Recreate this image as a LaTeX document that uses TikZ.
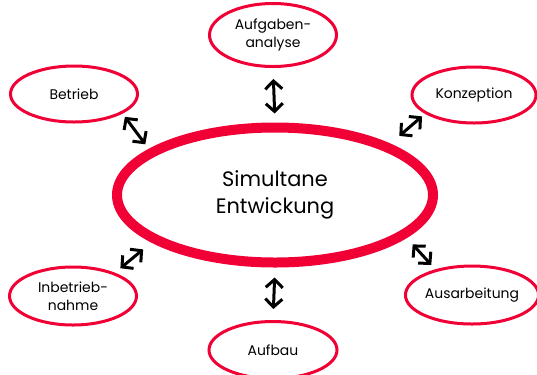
\documentclass[tikz,border=0pt]{standalone}
\usepackage{fontspec}
\setmainfont{Poppins}
\usetikzlibrary{arrows.meta}
\usetikzlibrary{shapes.geometric}
\definecolor{simred}{RGB}{240,0,52}
\tikzstyle{TaskNode}=[ellipse, draw=simred, line width=3bp, minimum width=127bp, minimum height=58bp, inner sep=0pt, align=center, font=\fontsize{14}{18}\selectfont]
\tikzstyle{CoreNode}=[TaskNode, line width=10bp, minimum width=316bp, minimum height=135bp, font=\fontsize{21}{27}\selectfont]
\tikzstyle{LinkEdge}=[{Straight Barb[length=8bp,width=17bp]}-{Straight Barb[length=8bp,width=17bp]}, line width=3bp]

\begin{document}
\begin{tikzpicture}[x=1bp,y=-1bp]
\useasboundingbox (0,0) rectangle (537,374);
\node[CoreNode](SIM) at (275,195) {Simultane\\Entwickung};
\node[TaskNode, minimum height=63bp](AUFG) at (273,35) {Aufgaben-\\analyse};
\node[TaskNode, minimum height=56bp](BETR) at (74,94) {Betrieb};
\node[TaskNode, minimum width=124bp, minimum height=56bp](KONZ) at (474,95) {Konzeption};
\node[TaskNode](INBE) at (73,296) {Inbetrieb-\\nahme};
\node[TaskNode, minimum width=126bp](AUSA) at (472,295) {Ausarbeitung};
\node[TaskNode, minimum width=128bp, minimum height=57bp](AUFB) at (273,350) {Aufbau};

\draw[LinkEdge, shorten <=11bp, shorten >=9bp](AUFG.south) -- (SIM.north);
\draw[LinkEdge, shorten <=10bp, shorten >=11bp](SIM.south) -- (AUFB.north);
\draw[LinkEdge, shorten <=4bp, shorten >=6bp](BETR.-22) -- (SIM.160);
\draw[LinkEdge, shorten <=4bp, shorten >=12bp](KONZ.201) -- (SIM.24);
\draw[LinkEdge, shorten <=7bp, shorten >=11bp](INBE.29) -- (SIM.201);
\draw[LinkEdge, shorten <=6bp, shorten >=9bp](AUSA.145) -- (SIM.-18);
\end{tikzpicture}
\end{document}
